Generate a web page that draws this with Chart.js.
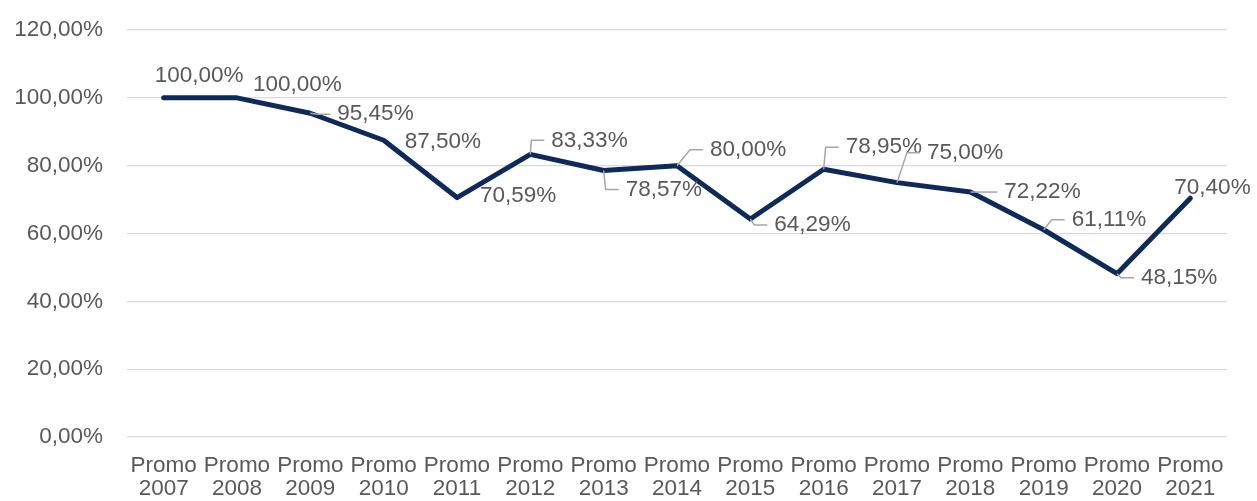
<!DOCTYPE html>
<html>
<head>
<meta charset="utf-8">
<script src="https://cdn.jsdelivr.net/npm/chart.js@4.4.1/dist/chart.umd.min.js"></script>
<style>
    html, body { margin: 0; padding: 0; background: #fff; }
    #wrap { width: 1257px; height: 501px; position: relative; }
</style>
</head>
<body>
<div id="wrap"><canvas id="promoChart"></canvas></div>
<script>
// Data
const promos = ['Promo 2007', 'Promo 2008', 'Promo 2009', 'Promo 2010', 'Promo 2011',
    'Promo 2012', 'Promo 2013', 'Promo 2014', 'Promo 2015', 'Promo 2016',
    'Promo 2017', 'Promo 2018', 'Promo 2019', 'Promo 2020', 'Promo 2021'];
const rates = [100, 100, 95.45, 87.5, 70.59, 83.33, 78.57, 80, 64.29, 78.95, 75, 72.22, 61.11, 48.15, 70.4];
const yTicks = [0, 20, 40, 60, 80, 100, 120];

// label placement (px from the point: text left / text middle), leader line on or off
const labelDx = [-9, 16, 27, 21, 23, 21, 22, 33, 24, 22, 30, 34, 28, 24, -16];
const labelDy = [-22, -13, 1, 2, -2, -14, 19, -16, 6, -22, -30, 0, -10, 4, -10];
const hasLeader = [false, false, true, false, false, true, true, true, true, true, true, true, true, true, false];

const FONT = '"Liberation Sans", Arial, sans-serif';
const FONT_SIZE = 22.5;
const TEXT = '#595959';

const fmt = v => v.toFixed(2).replace('.', ',') + '%';

// Data labels + leader lines
const dataLabels = {
    id: 'dataLabels',
    afterDatasetsDraw(chart) {
        const ctx = chart.ctx;
        const meta = chart.getDatasetMeta(0);
        ctx.save();
        ctx.font = FONT_SIZE + 'px ' + FONT;
        ctx.textBaseline = 'middle';
        ctx.textAlign = 'left';
        meta.data.forEach((pt, i) => {
            const lx = pt.x + labelDx[i];
            const ly = pt.y + labelDy[i];
            if (hasLeader[i]) {
                const ex = Math.max(pt.x, lx - 20);
                ctx.strokeStyle = '#a6a6a6';
                ctx.lineWidth = 1.5;
                ctx.beginPath();
                ctx.moveTo(pt.x, pt.y);
                ctx.lineTo(ex, ly);
                ctx.lineTo(lx - 7, ly);
                ctx.stroke();
            }
            ctx.fillStyle = TEXT;
            ctx.fillText(fmt(rates[i]), lx, ly);
        });
        ctx.restore();
    }
};

new Chart(document.getElementById('promoChart'), {
    type: 'line',
    data: {
        labels: promos.map(p => p.split(' ')),
        datasets: [{
            data: rates,
            borderColor: '#0d2a5a',
            borderWidth: 5,
            borderCapStyle: 'round',
            borderJoinStyle: 'round',
            tension: 0,
            pointRadius: 0,
            fill: false
        }]
    },
    options: {
        responsive: true,
        maintainAspectRatio: false,
        animation: false,
        layout: { padding: { top: 30, right: 30, left: 0, bottom: 0 } },
        plugins: {
            legend: { display: false },
            tooltip: { enabled: false }
        },
        scales: {
            x: {
                offset: true,
                grid: { display: false, drawTicks: false },
                border: { display: false },
                ticks: {
                    color: TEXT,
                    font: { family: FONT, size: FONT_SIZE, lineHeight: 1.03 },
                    padding: 17,
                    maxRotation: 0,
                    autoSkip: false
                },
                afterFit: (scale) => {
                    scale.height = 64;
                    scale.paddingLeft = 0;
                    scale.paddingRight = 0;
                }
            },
            y: {
                min: 0,
                max: 120,
                afterBuildTicks: (scale) => { scale.ticks = yTicks.map(v => ({ value: v })); },
                grid: { color: '#d9d9d9', lineWidth: 1.3, drawTicks: false },
                border: { display: false },
                ticks: {
                    color: TEXT,
                    font: { family: FONT, size: FONT_SIZE },
                    padding: 24,
                    callback: (v) => fmt(v)
                },
                afterFit: (scale) => {
                    scale.width = 127;
                    scale.paddingTop = 0;
                    scale.paddingBottom = 0;
                }
            }
        }
    },
    plugins: [dataLabels]
});
</script>
</body>
</html>
